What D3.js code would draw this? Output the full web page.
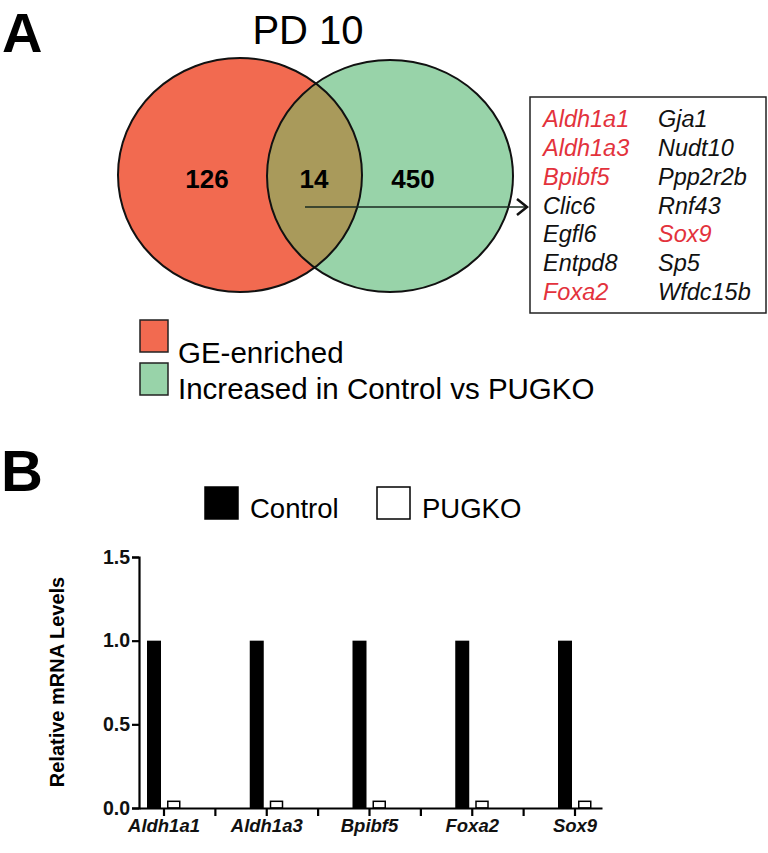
<!DOCTYPE html>
<html>
<head>
<meta charset="utf-8">
<script src="https://cdn.jsdelivr.net/npm/d3@7"></script>
<style>
  html, body { margin: 0; padding: 0; background: #fff; }
  svg { display: block; font-family: Arial, "Liberation Sans", sans-serif; }
</style>
</head>
<body>
<svg id="fig" width="768" height="853"></svg>
<script>
// Panel A data
var vennTitle = "PD 10";
var vennSets = ["GE-enriched", "Increased in Control vs PUGKO"];
var vennCounts = [126, 14, 450];            // only-left, overlap, only-right
var geneCol1 = ["Aldh1a1", "Aldh1a3", "Bpibf5", "Clic6", "Egfl6", "Entpd8", "Foxa2"];
var geneCol2 = ["Gja1", "Nudt10", "Ppp2r2b", "Rnf43", "Sox9", "Sp5", "Wfdc15b"];
var validatedGenes = ["Aldh1a1", "Aldh1a3", "Bpibf5", "Foxa2", "Sox9"];

// Panel B data
var categories = ["Aldh1a1", "Aldh1a3", "Bpibf5", "Foxa2", "Sox9"];
var seriesNames = ["Control", "PUGKO"];
var controlValues = [1.0, 1.0, 1.0, 1.0, 1.0];
var pugkoValues = [0.04, 0.04, 0.04, 0.04, 0.04];
var yTicks = [0.0, 0.5, 1.0, 1.5];

(function () {
  "use strict";
  var RED = "#f26a50", GREEN = "#98d3a9", OLIVE = "#a99a5b", GENE_RED = "#e3323c";
  var svg = d3.select("#fig");

  // ---------- Panel A ----------
  svg.append("text").attr("x", 2).attr("y", 52).attr("font-size", 56).attr("font-weight", "bold").text("A");
  svg.append("text").attr("x", 308).attr("y", 44).attr("text-anchor", "middle").attr("font-size", 40).text(vennTitle);

  var L = { cx: 240, cy: 175, rx: 122, ry: 117 };
  var R = { cx: 390, cy: 176, rx: 123, ry: 116 };
  var defs = svg.append("defs");
  defs.append("clipPath").attr("id", "clipR").append("ellipse")
    .attr("cx", R.cx).attr("cy", R.cy).attr("rx", R.rx).attr("ry", R.ry);

  function ell(e) {
    return svg.append("ellipse").attr("cx", e.cx).attr("cy", e.cy).attr("rx", e.rx).attr("ry", e.ry);
  }
  ell(L).attr("fill", RED);
  ell(R).attr("fill", GREEN);
  ell(L).attr("fill", OLIVE).attr("clip-path", "url(#clipR)");
  ell(L).attr("fill", "none").attr("stroke", "#111").attr("stroke-width", 2);
  ell(R).attr("fill", "none").attr("stroke", "#111").attr("stroke-width", 2);

  var countX = [207, 314, 413];
  vennCounts.forEach(function (c, i) {
    svg.append("text").attr("x", countX[i]).attr("y", 188).attr("text-anchor", "middle")
      .attr("font-size", 26).attr("font-weight", "bold").text(c);
  });

  // arrow from overlap to gene box
  svg.append("line").attr("x1", 305).attr("y1", 207).attr("x2", 526).attr("y2", 207)
    .attr("stroke", "#1a2a20").attr("stroke-width", 1.3);
  svg.append("path").attr("d", "M517,199 L527,207 L517,215").attr("fill", "none")
    .attr("stroke", "#111").attr("stroke-width", 2.5);

  // gene box
  svg.append("rect").attr("x", 530).attr("y", 97).attr("width", 236).attr("height", 216)
    .attr("fill", "#fff").attr("stroke", "#222").attr("stroke-width", 1.5);
  var rowY = d3.scaleLinear().domain([0, geneCol1.length - 1]).range([127, 300]);
  [[geneCol1, 543], [geneCol2, 658]].forEach(function (col) {
    col[0].forEach(function (g, i) {
      svg.append("text").attr("x", col[1]).attr("y", rowY(i))
        .attr("font-size", 23.5).attr("font-style", "italic")
        .attr("fill", validatedGenes.indexOf(g) >= 0 ? GENE_RED : "#111").text(g);
    });
  });

  // legend A
  var legColors = [RED, GREEN];
  vennSets.forEach(function (s, i) {
    svg.append("rect").attr("x", 140).attr("y", 320 + i * 43).attr("width", 28).attr("height", 32)
      .attr("fill", legColors[i]).attr("stroke", "#222").attr("stroke-width", 1.5);
    svg.append("text").attr("x", 178).attr("y", 363 + i * 36).attr("font-size", 29.5).text(s);
  });

  // ---------- Panel B ----------
  svg.append("text").attr("x", 1).attr("y", 491).attr("font-size", 58).attr("font-weight", "bold").text("B");

  var legX = [205, 377], legFill = ["#000", "#fff"];
  seriesNames.forEach(function (s, i) {
    svg.append("rect").attr("x", legX[i]).attr("y", 487).attr("width", 33).attr("height", 32)
      .attr("fill", legFill[i]).attr("stroke", "#000").attr("stroke-width", 1.5);
    svg.append("text").attr("x", legX[i] + 45).attr("y", 518).attr("font-size", 27.5).text(s);
  });

  var x0 = 139, x1 = 602;
  var y = d3.scaleLinear().domain([0, 1.5]).range([808, 557]);
  var xc = d3.scalePoint().domain(categories).range([164, 575]);
  var step = xc.step();
  var barW = 14, gap = 6;

  var plot = svg.append("g");
  // bars
  categories.forEach(function (c, i) {
    plot.append("rect").attr("x", xc(c) - gap / 2 - barW).attr("y", y(controlValues[i]))
      .attr("width", barW).attr("height", y(0) - y(controlValues[i])).attr("fill", "#000");
    plot.append("rect").attr("x", xc(c) + gap / 2 + 0.75).attr("y", y(pugkoValues[i]))
      .attr("width", barW - 2).attr("height", y(0) - y(pugkoValues[i]))
      .attr("fill", "#fff").attr("stroke", "#000").attr("stroke-width", 1.5);
  });

  // y axis
  var yAxis = d3.axisLeft(y).tickValues(yTicks).tickFormat(d3.format(".1f")).tickSize(7).tickPadding(2);
  var gy = plot.append("g").attr("transform", "translate(" + x0 + ",0)").call(yAxis);
  gy.select(".domain").attr("stroke-width", 2.2);
  gy.selectAll(".tick line").attr("stroke-width", 2.2);
  gy.selectAll("text").attr("font-size", 19.5).attr("font-weight", "bold").attr("fill", "#111")
    .attr("font-family", "Arial, 'Liberation Sans', sans-serif");

  // x axis: baseline, category ticks, separators between categories
  var xs = d3.scaleLinear().domain([0, 1]).range([x0, x1]);
  var gx = plot.append("g").attr("transform", "translate(0," + y(0) + ")")
    .call(d3.axisBottom(xs).tickValues([]).tickSizeOuter(0));
  gx.select(".domain").attr("stroke-width", 2.2);
  var tickXs = categories.map(function (c) { return xc(c); })
    .concat(categories.slice(0, -1).map(function (c) { return xc(c) + step / 2; }));
  tickXs.forEach(function (tx) {
    gx.append("line").attr("x1", tx).attr("x2", tx).attr("y1", 0).attr("y2", 8)
      .attr("stroke", "#000").attr("stroke-width", 2.2);
  });
  categories.forEach(function (c) {
    gx.append("text").attr("x", xc(c)).attr("y", 24).attr("text-anchor", "middle")
      .attr("font-size", 18.5).attr("font-weight", "bold").attr("font-style", "italic")
      .attr("fill", "#111").text(c);
  });

  svg.append("text").attr("transform", "translate(64,682) rotate(-90)").attr("text-anchor", "middle")
    .attr("font-size", 20).attr("font-weight", "bold").text("Relative mRNA Levels");
})();
</script>
</body>
</html>
